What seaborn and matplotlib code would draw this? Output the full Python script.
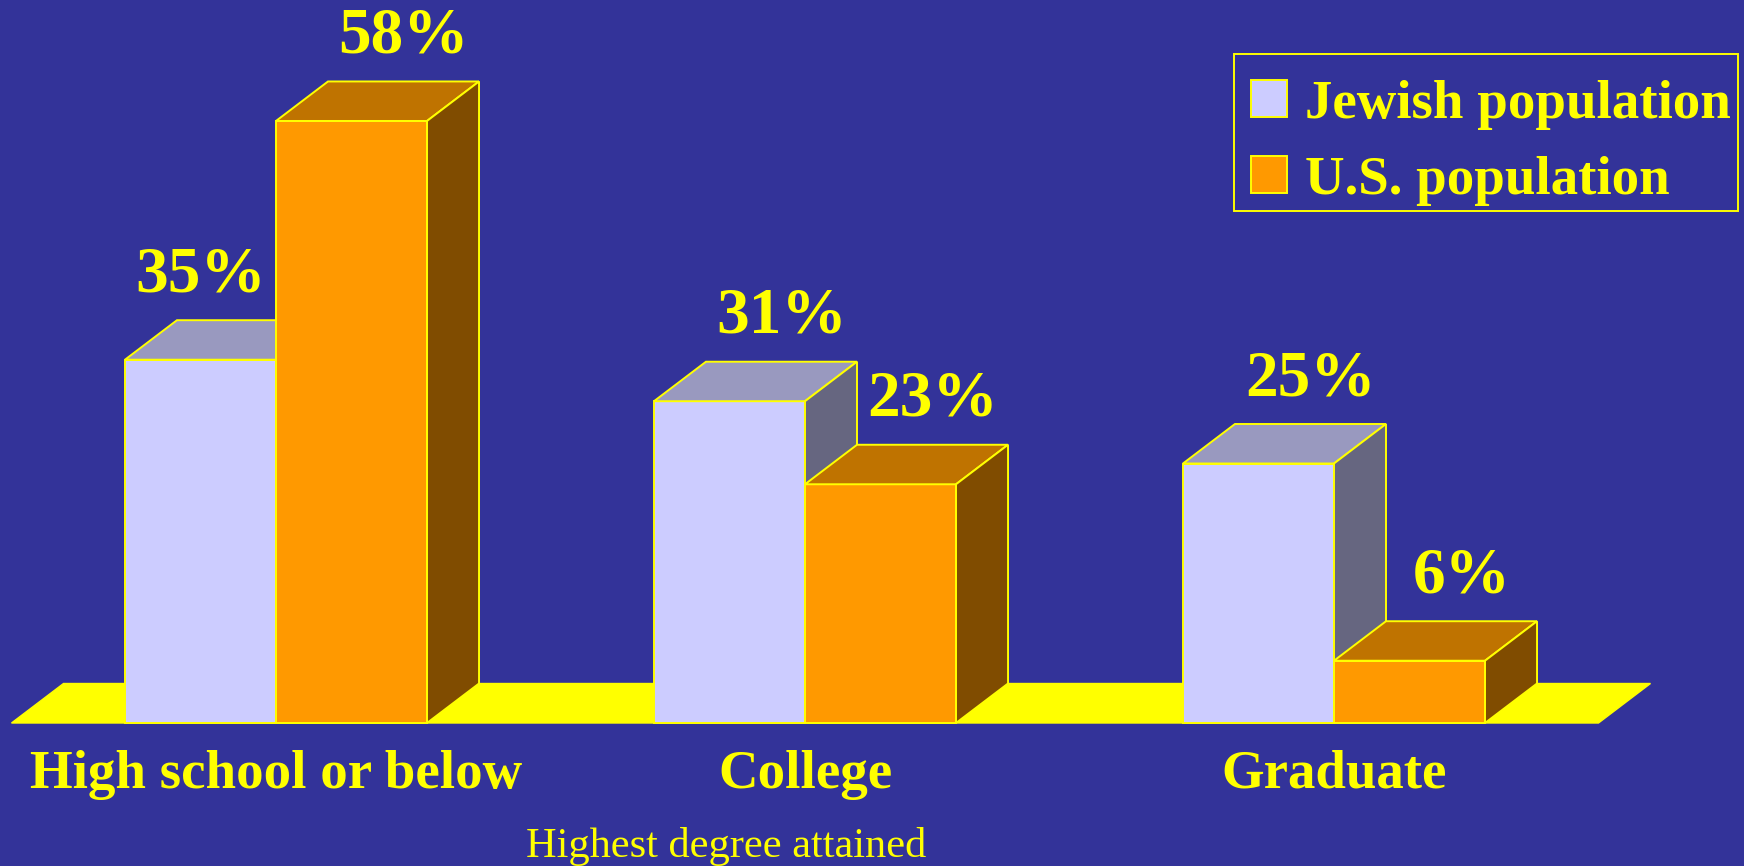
import numpy as np
import pandas as pd
import matplotlib
matplotlib.use("Agg")
import matplotlib.pyplot as plt
from matplotlib.patches import Polygon, Patch, Rectangle
import seaborn as sns

sns.set_style("white")
plt.rcParams['font.family'] = ['Liberation Serif', 'DejaVu Serif']

# Data
categories = ["High school or below", "College", "Graduate"]
series = ["Jewish population", "U.S. population"]
jewish = [35, 31, 25]
us_pop = [58, 23, 6]
axis_title = "Highest degree attained"

# Colours: front, top, side of each box
bg = "#333399"
yellow = "#FFFF00"
front_cols = ["#CCCCFF", "#FF9900"]
top_cols = ["#9999BF", "#BF7300"]
side_cols = ["#666680", "#804C00"]

df = pd.DataFrame({
    "Degree": categories * 2,
    "Population": [series[0]] * 3 + [series[1]] * 3,
    "Share": jewish + us_pop,
})

W, H = 1744, 866
fig = plt.figure(figsize=(W / 100, H / 100), dpi=100, facecolor=bg)
ax = fig.add_axes([0, 0, 1, 1])

sns.barplot(data=df, x="Degree", y="Share", hue="Population", hue_order=series,
            palette=front_cols, saturation=1, width=0.571, errorbar=None,
            edgecolor=yellow, linewidth=1.4, legend=False, ax=ax)

# pixel scale -> data units
px_x = 529.0      # pixels per category step
px_y = 10.38      # pixels per percent
ax.set_xlim(-276 / px_x, (W - 276) / px_x)
ax.set_ylim(-(H - 723) / px_y, 723 / px_y)
ax.axis("off")

dx = 52 / px_x
dy = 39.5 / px_y

# yellow floor
n = len(categories)
floor = Polygon([(-0.5, 0), (-0.5 + dx, dy), (n - 0.5 + dx, dy), (n - 0.5, 0)],
                closed=True, facecolor=yellow, edgecolor=yellow, lw=1, zorder=1)
ax.add_patch(floor)

# 3D faces on top of seaborn's bars
for k, cont in enumerate(ax.containers):
    for j, bar in enumerate(cont.patches):
        bar.set_zorder(2 + k)
        x0 = bar.get_x()
        x1 = x0 + bar.get_width()
        h = bar.get_height()
        top = Polygon([(x0, h), (x0 + dx, h + dy), (x1 + dx, h + dy), (x1, h)],
                      closed=True, facecolor=top_cols[k], edgecolor=yellow,
                      lw=1.4, zorder=2 + k)
        side = Polygon([(x1, 0), (x1, h), (x1 + dx, h + dy), (x1 + dx, dy)],
                       closed=True, facecolor=side_cols[k], edgecolor=yellow,
                       lw=1.4, zorder=2 + k)
        ax.add_patch(top)
        ax.add_patch(side)

        # value label, pushed left when the neighbour bar is taller
        lx = (x0 + x1) / 2 + dx
        if k == 0 and us_pop[j] > jewish[j]:
            lx = (x0 + x1) / 2
        ax.text(lx, h + dy + 29 / px_y, f"{int(h)}%", ha="center", va="baseline",
                fontsize=47, fontweight="bold", color=yellow, zorder=5)

# category labels
for i, cat in enumerate(categories):
    ax.text(i, -65 / px_y, cat, ha="center", va="baseline", fontsize=39.5,
            fontweight="bold", color=yellow)

fig.text(726 / W, (H - 857) / H, axis_title, ha="center", va="baseline",
         fontsize=30.5, color=yellow)

# legend: box drawn by hand, entries from matplotlib
box = Rectangle((1234 / W, 1 - 211 / H), (1738 - 1234) / W, (211 - 54) / H,
                transform=fig.transFigure, facecolor="none", edgecolor=yellow,
                lw=1.4, zorder=6)
fig.patches.append(box)

handles = [Patch(facecolor=front_cols[i], edgecolor=yellow, lw=1.4) for i in range(2)]
leg = ax.legend(handles, series, loc="upper left",
                bbox_to_anchor=(1251 / W, 1 - 80 / H), bbox_transform=fig.transFigure,
                borderaxespad=0, fontsize=39.5, handlelength=0.66, handleheight=0.66,
                handletextpad=0.33, labelspacing=0.47, borderpad=0,
                frameon=False)
for t in leg.get_texts():
    t.set_color(yellow)
    t.set_fontweight("bold")

fig.savefig("out.png", dpi=100, facecolor=bg)
